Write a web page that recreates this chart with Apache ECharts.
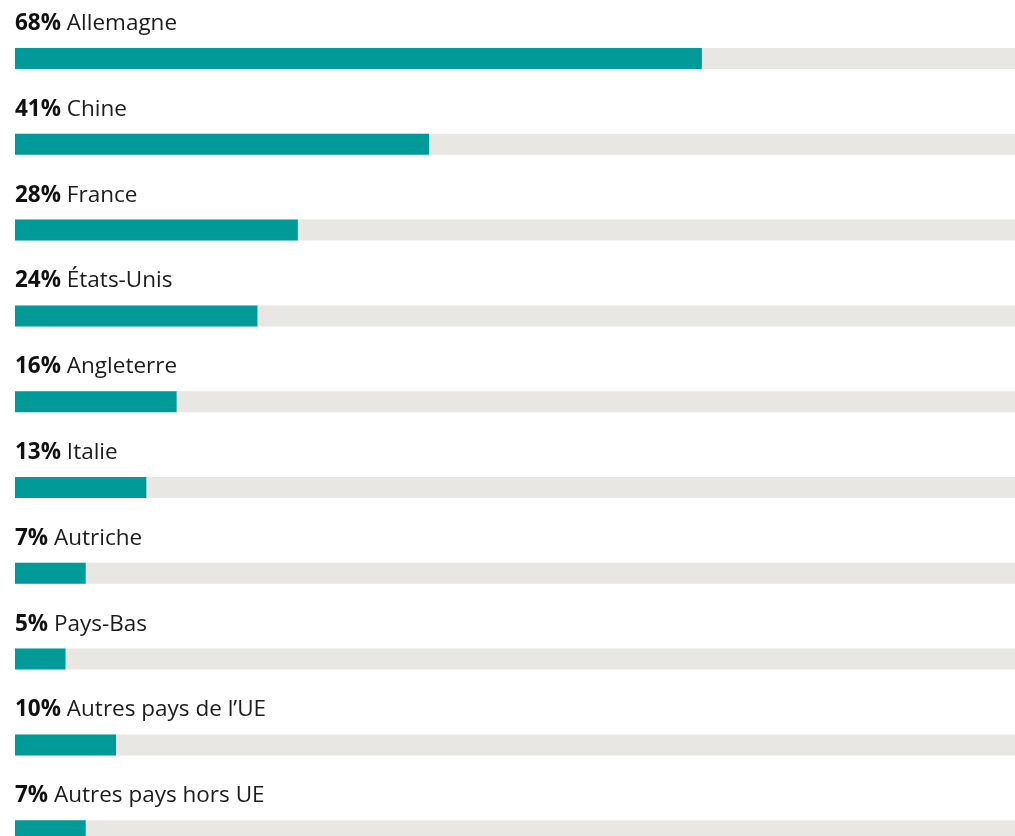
<!DOCTYPE html>
<html>
<head>
<meta charset="utf-8">
<script src="https://cdn.jsdelivr.net/npm/echarts@6/dist/echarts.min.js"></script>
<style>
  html, body { margin: 0; padding: 0; background: #ffffff; }
  #chart { width: 1015px; height: 836px; }
</style>
</head>
<body>
<div id="chart"></div>
<script>
// Share of respondents by country
const countries = ['Allemagne', 'Chine', 'France', 'États-Unis', 'Angleterre', 'Italie', 'Autriche', 'Pays-Bas', 'Autres pays de l’UE', 'Autres pays hors UE'];
const shares = [68, 41, 28, 24, 16, 13, 7, 5, 10, 7];
const scaleMax = 99;

const chart = echarts.init(document.getElementById('chart'), null, { renderer: 'canvas' });

chart.setOption({
  animation: false,
  backgroundColor: '#ffffff',
  grid: { left: 15, right: 0, top: 15.6, height: 858, containLabel: false, outerBoundsMode: 'none' },
  xAxis: { type: 'value', min: 0, max: scaleMax, show: false },
  yAxis: { type: 'category', data: countries, inverse: true, show: false },
  series: [{
    type: 'bar',
    data: shares,
    barWidth: 21,
    itemStyle: { color: '#009b99' },
    showBackground: true,
    backgroundStyle: { color: '#e8e7e3' },
    label: {
      show: true,
      position: [0, -13],
      verticalAlign: 'bottom',
      align: 'left',
      fontFamily: 'Open Sans',
      fontSize: 22.5,
      formatter: (p) => '{b|' + p.value + '%} {n|' + p.name + '}',
      rich: {
        b: { fontFamily: 'Open Sans', fontWeight: 'bold', fontSize: 22.5, color: '#111111' },
        n: { fontFamily: 'Open Sans', fontWeight: 'normal', fontSize: 22.5, color: '#1c1c1c' }
      }
    }
  }]
});
</script>
</body>
</html>
